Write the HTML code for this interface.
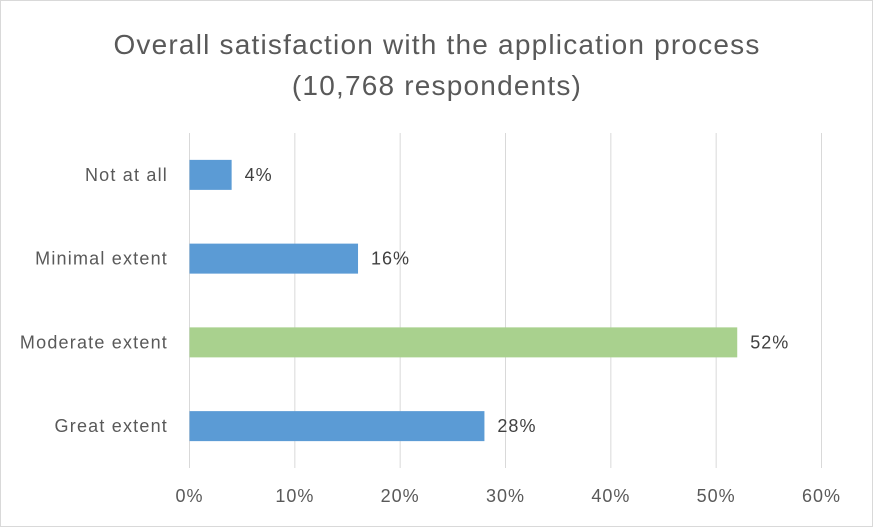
<!DOCTYPE html>
<html><head><meta charset="utf-8"><style>
body{margin:0;background:#fff}
svg{display:block;font-family:"Liberation Sans",sans-serif}
</style></head><body>
<svg width="873" height="527">
<rect x="0.5" y="0.5" width="872" height="526" fill="#fff" stroke="#d9d9d9"/>
<text x="437" y="54" text-anchor="middle" font-size="28" letter-spacing="1.2" fill="#595959">Overall satisfaction with the application process</text>
<text x="437" y="95" text-anchor="middle" font-size="28" letter-spacing="1.2" fill="#595959">(10,768 respondents)</text>
<g id="grid"></g><g id="bars"></g><g id="labels"></g>
</svg>
<script>
const categories=["Not at all","Minimal extent","Moderate extent","Great extent"];
const values=[4,16,52,28];
const valueLabels=["4%","16%","52%","28%"];
const colors=["#5b9bd5","#5b9bd5","#a9d18e","#5b9bd5"];
const ticks=[0,10,20,30,40,50,60];
const tickLabels=["0%","10%","20%","30%","40%","50%","60%"];
const NS="http://www.w3.org/2000/svg";
const x0=189.5,x1=821.5,yTop=133,yBot=468,xmax=60;
const xs=v=>x0+(x1-x0)*v/xmax;
const band=(yBot-yTop)/categories.length;
const yc=i=>yTop+band*(i+0.5);
function mk(t,a,p){const e=document.createElementNS(NS,t);for(const k in a)e.setAttribute(k,a[k]);p.appendChild(e);return e;}
const g=document.getElementById('grid'),b=document.getElementById('bars'),l=document.getElementById('labels');
ticks.forEach((t,i)=>{
const ln=mk('line',{x1:xs(t),x2:xs(t),y1:yTop,y2:yBot,stroke:'#d9d9d9','stroke-width':1},g);


const tx=mk('text',{x:xs(t),y:502,'text-anchor':'middle','font-size':18,'letter-spacing':1,fill:'#595959'},l);
tx.textContent=tickLabels[i];


});
categories.forEach((c,i)=>{
const h=30;
const r=mk('rect',{x:xs(0),y:yc(i)-h/2,width:xs(values[i])-xs(0),height:h,fill:colors[i]},b);


const ct=mk('text',{x:168,y:yc(i)+6,'text-anchor':'end','font-size':18,'letter-spacing':1.2,fill:'#595959'},l);
ct.textContent=c;


const vt=mk('text',{x:xs(values[i])+13,y:yc(i)+6,'font-size':18,'letter-spacing':1,fill:'#404040'},l);
vt.textContent=valueLabels[i];


});
</script>
</body></html>
